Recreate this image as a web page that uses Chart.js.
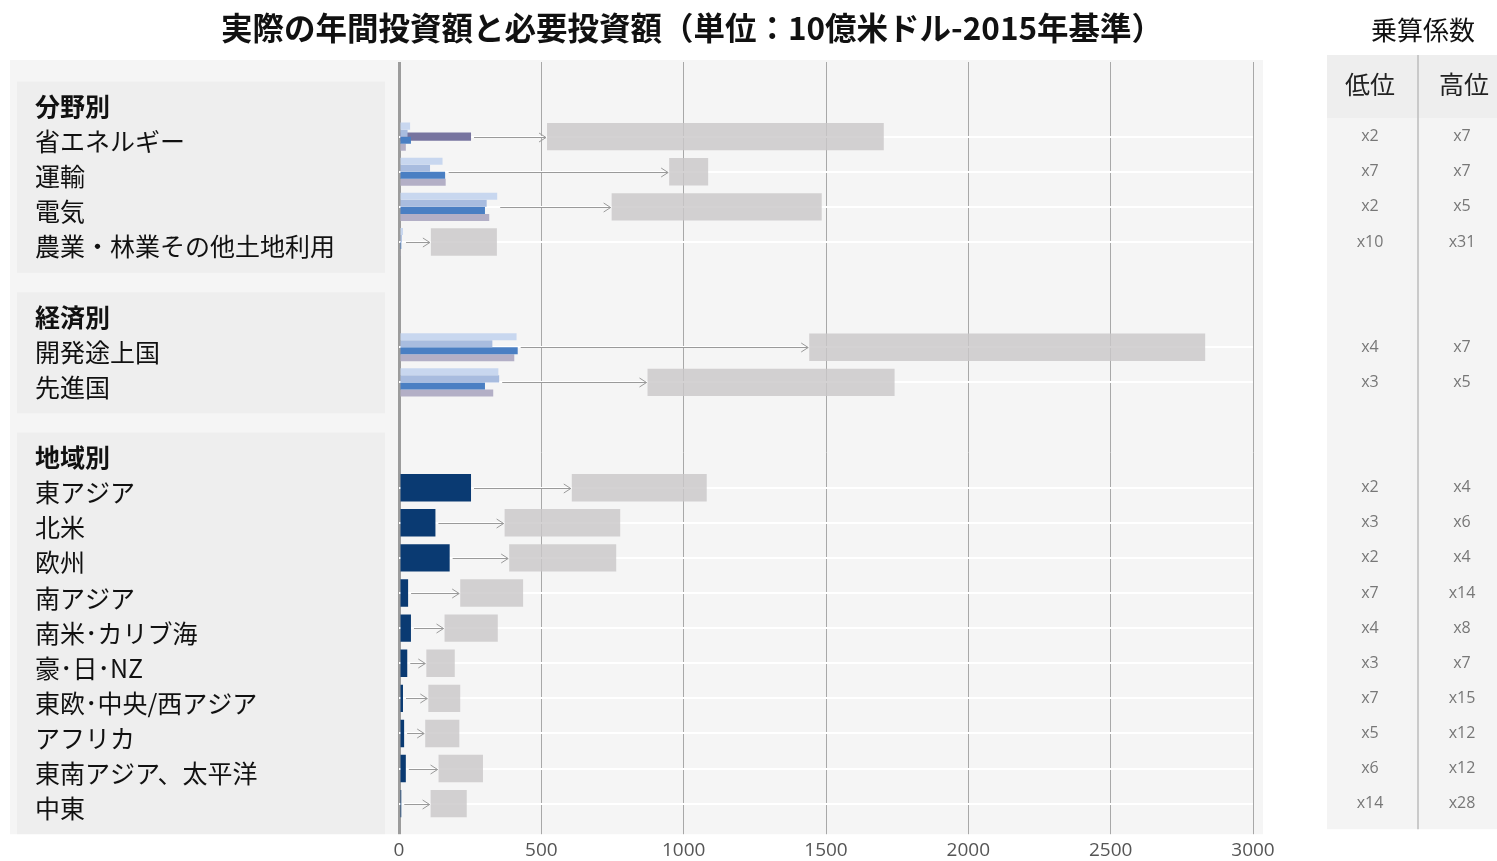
<!DOCTYPE html>
<html lang="ja">
<head>
<meta charset="utf-8">
<title>実際の年間投資額と必要投資額</title>
<script src="https://cdn.jsdelivr.net/npm/chart.js@4.4.0/dist/chart.umd.min.js"></script>
<style>
  html, body { margin: 0; padding: 0; background: #fff; }
  #wrap { position: relative; width: 1497px; height: 861px; }
  #chart { position: absolute; left: 0; top: 0; }
  #title { position: absolute; left: 8px; top: 3px; width: 1368px; text-align: center;
           font: bold 31.5px "Noto Sans CJK JP", sans-serif; color: #111; white-space: nowrap; }
  #multTitle { position: absolute; left: 1323px; top: 10px; width: 200px; text-align: center;
               font: 26px "Noto Sans CJK JP", sans-serif; color: #111; }
</style>
</head>
<body>
<div id="wrap">
  <canvas id="chart" width="1497" height="861"></canvas>
  <div id="title">実際の年間投資額と必要投資額（単位：10億米ドル-2015年基準）</div>
  <div id="multTitle">乗算係数</div>
</div>
<script>
// rows, top to bottom (group headers and spacer rows included)
const rowLabels = [
  '分野別', '省エネルギー', '運輸', '電気', '農業・林業その他土地利用', '',
  '経済別', '開発途上国', '先進国', '',
  '地域別', '東アジア', '北米', '欧州', '南アジア', '南米･カリブ海', '豪･日･NZ',
  '東欧･中央/西アジア', 'アフリカ', '東南アジア、太平洋', '中東'
];
const headerRows = ['分野別', '経済別', '地域別'];
const groups = [[0, 4], [6, 8], [10, 20]];

// actual annual investment (sector / economy rows, four series)
const actualA = [null, 39, 153, 345, 14, null, null, 413, 349, null, null, null, null, null, null, null, null, null, null, null, null];
const actualB = [null, 30, 109, 308, 10, null, null, 328, 352, null, null, null, null, null, null, null, null, null, null, null, null];
const actualC = [null, 42, 162, 302, 8, null, null, 417, 302, null, null, null, null, null, null, null, null, null, null, null, null];
const actualD = [null, 24, 164, 317, 6, null, null, 405, 331, null, null, null, null, null, null, null, null, null, null, null, null];
const energyEff = [null, 253, null, null, null, null, null, null, null, null, null, null, null, null, null, null, null, null, null, null, null];
// actual annual investment by region
const regionActual = [null, null, null, null, null, null, null, null, null, null, null, 253, 128, 178, 32, 42, 29, 14, 18, 24, 8];

// required investment range
const requiredLow  = [null, 520, 949, 747, 112, null, null, 1441, 873, null, null, 607, 371, 387, 215, 160, 96, 103, 92, 139, 111];
const requiredHigh = [null, 1703, 1086, 1485, 344, null, null, 2832, 1741, null, null, 1081, 777, 763, 436, 347, 196, 215, 212, 295, 238];

// multiplier columns
const multLow  = ['', 'x2', 'x7', 'x2', 'x10', '', '', 'x4', 'x3', '', '', 'x2', 'x3', 'x2', 'x7', 'x4', 'x3', 'x7', 'x5', 'x6', 'x14'];
const multHigh = ['', 'x7', 'x7', 'x5', 'x31', '', '', 'x7', 'x5', '', '', 'x4', 'x6', 'x4', 'x14', 'x8', 'x7', 'x15', 'x12', 'x12', 'x28'];

const xTicks = [0, 500, 1000, 1500, 2000, 2500, 3000];

const JP = '"Noto Sans CJK JP", sans-serif';
const NUM = '"Open Sans", sans-serif';
const isDataRow = i => requiredLow[i] != null;
const actualSeries = [actualA, actualB, actualC, actualD, energyEff, regionActual];

// background panels behind labels and plot
const panelPlugin = {
  id: 'panels',
  beforeDraw(chart) {
    const {ctx, chartArea, scales: {y}} = chart;
    const step = y.getPixelForValue(1) - y.getPixelForValue(0);
    ctx.save();
    ctx.fillStyle = '#f5f5f5';
    ctx.fillRect(10, chartArea.top - 24, chartArea.right, chartArea.bottom - chartArea.top + 37);
    ctx.fillStyle = '#eeeeee';
    groups.forEach(([first, last]) => {
      const top = y.getPixelForValue(first) - 0.57 * step;
      const bottom = Math.min(y.getPixelForValue(last) + 0.88 * step, chartArea.bottom + 13);
      ctx.fillRect(17, top, 368, bottom - top);
    });
    ctx.restore();
  }
};

// arrows from actual to required, plus multiplier table
const arrowPlugin = {
  id: 'arrows',
  afterDatasetsDraw(chart) {
    const {ctx, scales: {x, y}} = chart;
    ctx.save();
    ctx.strokeStyle = '#9a9a9a';
    ctx.lineWidth = 1;
    rowLabels.forEach((_, i) => {
      if (!isDataRow(i)) return;
      const vals = actualSeries.map(s => s[i]).filter(v => v != null);
      const x0 = x.getPixelForValue(Math.max(...vals)) + 3;
      const x1 = x.getPixelForValue(requiredLow[i]) - 1;
      const yy = Math.round(y.getPixelForValue(i)) + 0.5;
      ctx.beginPath();
      ctx.moveTo(x0, yy);
      ctx.lineTo(x1, yy);
      ctx.moveTo(x1 - 7, yy - 4.5);
      ctx.lineTo(x1, yy);
      ctx.lineTo(x1 - 7, yy + 4.5);
      ctx.stroke();
    });
    ctx.restore();
  },
  afterDraw(chart) {
    const {ctx, chartArea, scales: {y}} = chart;
    const left = 1327, mid = 1418, right = 1497;
    const top = chartArea.top - 29, bottom = chartArea.bottom + 8;
    ctx.save();
    ctx.fillStyle = '#f4f4f4';
    ctx.fillRect(left, top, right - left, bottom - top);
    ctx.fillStyle = '#eeeeee';
    ctx.fillRect(left, top, right - left, 63);
    ctx.strokeStyle = '#bdbdbd';
    ctx.lineWidth = 1.5;
    ctx.beginPath();
    ctx.moveTo(mid, top);
    ctx.lineTo(mid, bottom);
    ctx.stroke();
    ctx.textAlign = 'center';
    ctx.textBaseline = 'middle';
    ctx.fillStyle = '#222';
    ctx.font = '25px ' + JP;
    ctx.fillText('低位', 1370, top + 29);
    ctx.fillText('高位', 1464, top + 29);
    ctx.fillStyle = '#777';
    ctx.font = '16px ' + NUM;
    rowLabels.forEach((_, i) => {
      if (!multLow[i]) return;
      const yy = y.getPixelForValue(i);
      ctx.fillText(multLow[i], 1370, yy);
      ctx.fillText(multHigh[i], 1462, yy);
    });
    ctx.restore();
  }
};

const gridColor = c => (c.tick && c.tick.value === 0) ? '#9c9c9c' : '#a8a8a8';
const gridWidth = c => (c.tick && c.tick.value === 0) ? 3 : 1;

new Chart(document.getElementById('chart'), {
  type: 'bar',
  data: {
    labels: rowLabels,
    datasets: [
      { label: '実績A', data: actualA, backgroundColor: '#c8d7ef', categoryPercentage: 0.8, barPercentage: 1 },
      { label: '実績B', data: actualB, backgroundColor: '#a8bcdf', categoryPercentage: 0.8, barPercentage: 1 },
      { label: '実績C', data: actualC, backgroundColor: '#4a7fc3', categoryPercentage: 0.8, barPercentage: 1 },
      { label: '実績D', data: actualD, backgroundColor: '#b3afc6', categoryPercentage: 0.8, barPercentage: 1 },
      { label: '地域別実績', data: regionActual, backgroundColor: '#0a3a72', grouped: false, categoryPercentage: 0.78, barPercentage: 1 },
      { label: '省エネ実績', data: energyEff, backgroundColor: '#77749f', grouped: false, categoryPercentage: 0.78, barPercentage: 0.3 },
      { label: '必要投資額', data: rowLabels.map((_, i) => isDataRow(i) ? [requiredLow[i], requiredHigh[i]] : null),
        backgroundColor: 'rgba(203,200,201,0.82)', grouped: false, categoryPercentage: 0.78, barPercentage: 1 }
    ]
  },
  options: {
    indexAxis: 'y',
    responsive: false,
    animation: false,
    layout: { padding: { left: 35, right: 244, top: 62, bottom: -6 } },
    plugins: { legend: { display: false }, tooltip: { enabled: false } },
    scales: {
      x: {
        type: 'linear',
        position: 'bottom',
        min: xTicks[0],
        max: xTicks[xTicks.length - 1],
        afterBuildTicks: s => { s.ticks = xTicks.map(v => ({ value: v })); },
        grid: { color: gridColor, lineWidth: gridWidth, tickLength: 13 },
        border: { display: false },
        ticks: { color: '#555', padding: 5, font: { family: NUM, size: 19 }, callback: v => String(v) }
      },
      xTop: {
        type: 'linear',
        position: 'top',
        min: xTicks[0],
        max: xTicks[xTicks.length - 1],
        afterBuildTicks: s => { s.ticks = xTicks.map(v => ({ value: v })); },
        grid: { color: gridColor, lineWidth: gridWidth, tickLength: 22, drawOnChartArea: false },
        border: { display: false },
        ticks: { display: false }
      },
      y: {
        z: -1,
        afterFit: s => { s.width = 364; },
        grid: {
          offset: false,
          drawTicks: false,
          lineWidth: 2,
          color: c => isDataRow(c.index) ? '#ffffff' : 'rgba(0,0,0,0)'
        },
        border: { display: false },
        ticks: {
          autoSkip: false,
          crossAlign: 'far',
          padding: 0,
          labelOffset: 5,
          color: '#111',
          font: c => ({
            family: JP,
            size: 25,
            weight: headerRows.includes(rowLabels[c.index]) ? 'bold' : 'normal'
          })
        }
      }
    }
  },
  plugins: [panelPlugin, arrowPlugin]
});
</script>
</body>
</html>
